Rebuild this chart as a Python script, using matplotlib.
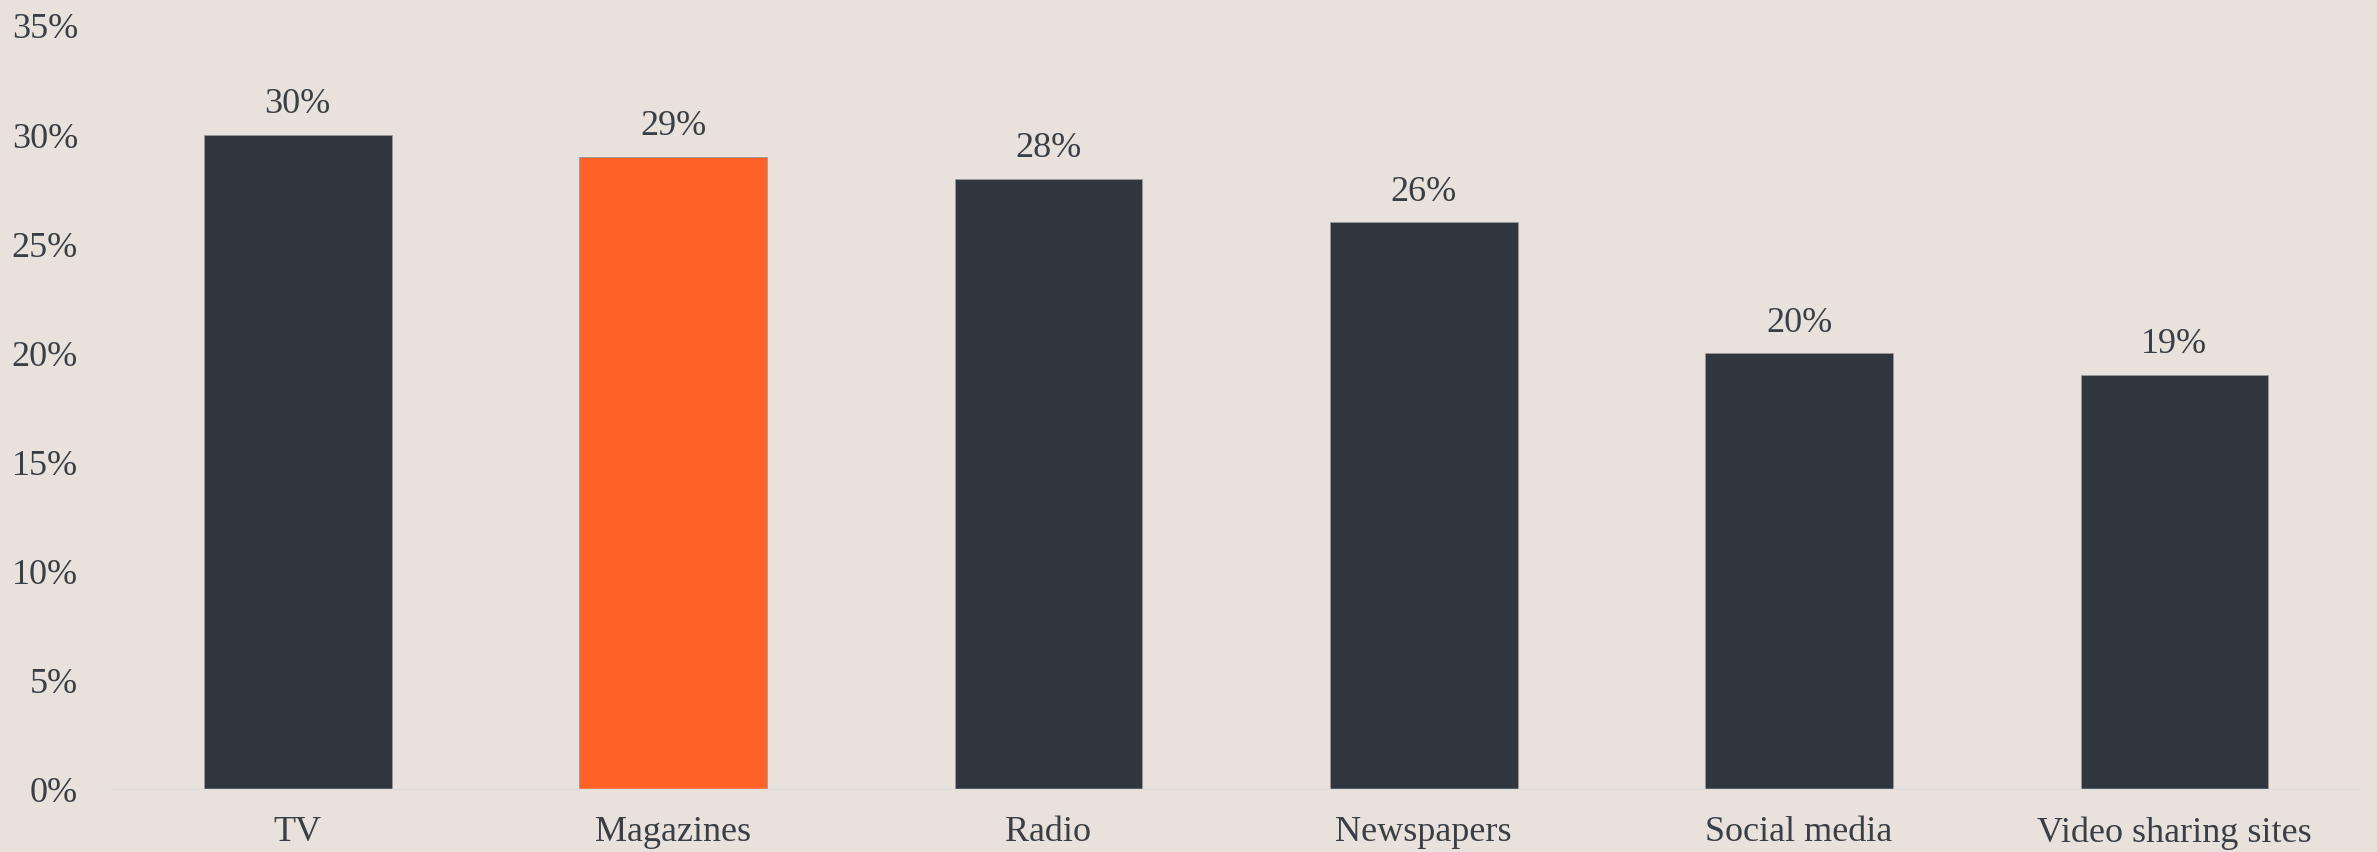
import matplotlib
matplotlib.use("Agg")
import matplotlib.pyplot as plt
from matplotlib.ticker import FuncFormatter

categories = ["TV", "Magazines", "Radio", "Newspapers", "Social media", "Video sharing sites"]
values = [30, 29, 28, 26, 20, 19]
highlight = "Magazines"
yticks = [0, 5, 10, 15, 20, 25, 30, 35]

bg = "#e9e2dc"
dark = "#2f363e"
orange = "#ff6126"
text_color = "#3a3f47"

plt.rcParams['font.family'] = ['Liberation Serif', 'DejaVu Serif']

fig = plt.figure(figsize=(23.77, 8.52), dpi=100, facecolor=bg)
ax = fig.add_axes([0.0463, 0.0728, 0.9474, 0.8967])
ax.set_facecolor(bg)

colors = [orange if c == highlight else dark for c in categories]
x = list(range(len(categories)))
bars = ax.bar(x, values, width=0.5, color=colors, edgecolor="#9a9a9a", linewidth=0.6, zorder=2)

for xi, v in zip(x, values):
    ax.annotate(f"{v}%", (xi, v), xytext=(0, 10), textcoords="offset points",
                ha="center", va="bottom", fontsize=26, color=text_color)

ax.set_xlim(-0.5, len(categories) - 0.5)
ax.set_ylim(0, 35)
ax.set_yticks(yticks)
ax.yaxis.set_major_formatter(FuncFormatter(lambda v, p: f"{int(v)}%"))
ax.set_xticks(x)
ax.set_xticklabels(categories)

for s in ax.spines.values():
    s.set_visible(False)
ax.axhline(0, color="#dcdcdc", linewidth=2.5, zorder=3)

ax.tick_params(axis="both", length=0, labelsize=26, colors=text_color)
ax.tick_params(axis="y", pad=23)
ax.tick_params(axis="x", pad=19)

fig.savefig("out.png", dpi=100, facecolor=bg)
